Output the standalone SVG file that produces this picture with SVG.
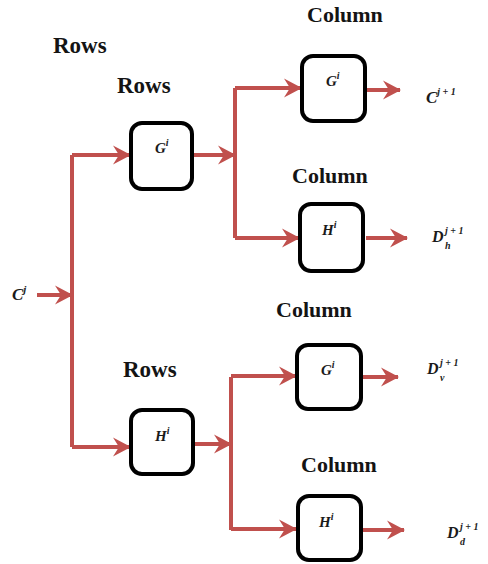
<svg xmlns="http://www.w3.org/2000/svg" width="488" height="564" viewBox="0 0 488 564">
  <style>
    .hdr { font-family: "Liberation Serif", "Times New Roman", serif; font-weight: bold; fill: #141414; }
    .rows { font-size: 23px; }
    .col { font-size: 22px; }
    .box { fill: #ffffff; stroke: #000000; stroke-width: 4; }
    .sym { font-family: "Liberation Serif", "Times New Roman", serif; font-style: italic; font-weight: bold; fill: #1a1a1a; }
    .wire { fill: none; stroke: #c0504d; stroke-width: 4; stroke-linecap: butt; }
    .arrow { marker-end: url(#head); }
  </style>
  <defs>
    <marker id="head" markerUnits="userSpaceOnUse" viewBox="-18 -10 19 20" refX="0" refY="0" markerWidth="19" markerHeight="20" orient="auto">
      <path d="M1,0 L-17,-9.5 L-11,0 L-17,9.5 Z" fill="#c0504d"/>
    </marker>
  </defs>
  <rect width="488" height="564" fill="#ffffff"/>

  <!-- stage headings -->
  <g id="headings">
    <text class="hdr rows" x="53" y="53">Rows</text>
    <text class="hdr rows" x="117" y="93">Rows</text>
    <text class="hdr rows" x="123" y="377">Rows</text>
    <text class="hdr col" x="307" y="22">Column</text>
    <text class="hdr col" x="292" y="183">Column</text>
    <text class="hdr col" x="276" y="317">Column</text>
    <text class="hdr col" x="301" y="472">Column</text>
  </g>

  <!-- connectors -->
  <g id="connectors">
    <path class="wire arrow" d="M37,295 H72"/>
    <path class="wire" d="M72,155 V447"/>
    <path class="wire arrow" d="M72,155 H130"/>
    <path class="wire arrow" d="M72,447 H130"/>
    <path class="wire arrow" d="M193,155 H235"/>
    <path class="wire" d="M235,88 V238"/>
    <path class="wire arrow" d="M235,88 H301"/>
    <path class="wire arrow" d="M235,238 H299"/>
    <path class="wire arrow" d="M194,444 H231"/>
    <path class="wire" d="M231,377 V530"/>
    <path class="wire arrow" d="M231,376 H296"/>
    <path class="wire arrow" d="M231,529 H296"/>
    <path class="wire arrow" d="M360,90 H400"/>
    <path class="wire arrow" d="M366,238 H407"/>
    <path class="wire arrow" d="M358,377 H398"/>
    <path class="wire arrow" d="M363,530 H404"/>
  </g>

  <!-- row filters -->
  <g id="row-G">
    <rect class="box" x="131" y="123" width="61" height="66" rx="11"/>
    <text class="sym" x="155" y="153" font-size="15">G<tspan font-size="10" dy="-7">i</tspan></text>
  </g>
  <g id="row-H">
    <rect class="box" x="131" y="410" width="62" height="64" rx="11"/>
    <text class="sym" x="155" y="441" font-size="15">H<tspan font-size="10" dy="-7">i</tspan></text>
  </g>

  <!-- column filters -->
  <g id="col-G-upper">
    <rect class="box" x="302" y="56" width="63" height="65" rx="11"/>
    <text class="sym" x="326" y="86" font-size="15">G<tspan font-size="10" dy="-7">i</tspan></text>
  </g>
  <g id="col-H-upper">
    <rect class="box" x="300" y="204" width="63" height="67" rx="11"/>
    <text class="sym" x="322" y="235" font-size="15">H<tspan font-size="10" dy="-7">i</tspan></text>
  </g>
  <g id="col-G-lower">
    <rect class="box" x="297" y="345" width="64" height="64" rx="11"/>
    <text class="sym" x="321" y="375" font-size="15">G<tspan font-size="10" dy="-7">i</tspan></text>
  </g>
  <g id="col-H-lower">
    <rect class="box" x="298" y="496" width="63" height="64" rx="11"/>
    <text class="sym" x="319" y="527" font-size="15">H<tspan font-size="10" dy="-7">i</tspan></text>
  </g>

  <!-- input and output signals -->
  <g id="input-C">
    <text class="sym" x="12" y="300" font-size="17">C<tspan font-size="11" dy="-7">j</tspan></text>
  </g>
  <g id="out-C">
    <text class="sym" x="426" y="103" font-size="17">C<tspan font-size="10" dy="-8">j + 1</tspan></text>
  </g>
  <g id="out-Dh">
    <text class="sym" x="432" y="242" font-size="16">D</text>
    <text class="sym" x="445" y="234" font-size="10">j + 1</text>
    <text class="sym" x="445" y="249" font-size="10">h</text>
  </g>
  <g id="out-Dv">
    <text class="sym" x="427" y="374" font-size="16">D</text>
    <text class="sym" x="440" y="366" font-size="10">j + 1</text>
    <text class="sym" x="440" y="381" font-size="10">v</text>
  </g>
  <g id="out-Dd">
    <text class="sym" x="447" y="538" font-size="16">D</text>
    <text class="sym" x="460" y="530" font-size="10">j + 1</text>
    <text class="sym" x="460" y="545" font-size="10">d</text>
  </g>
</svg>
